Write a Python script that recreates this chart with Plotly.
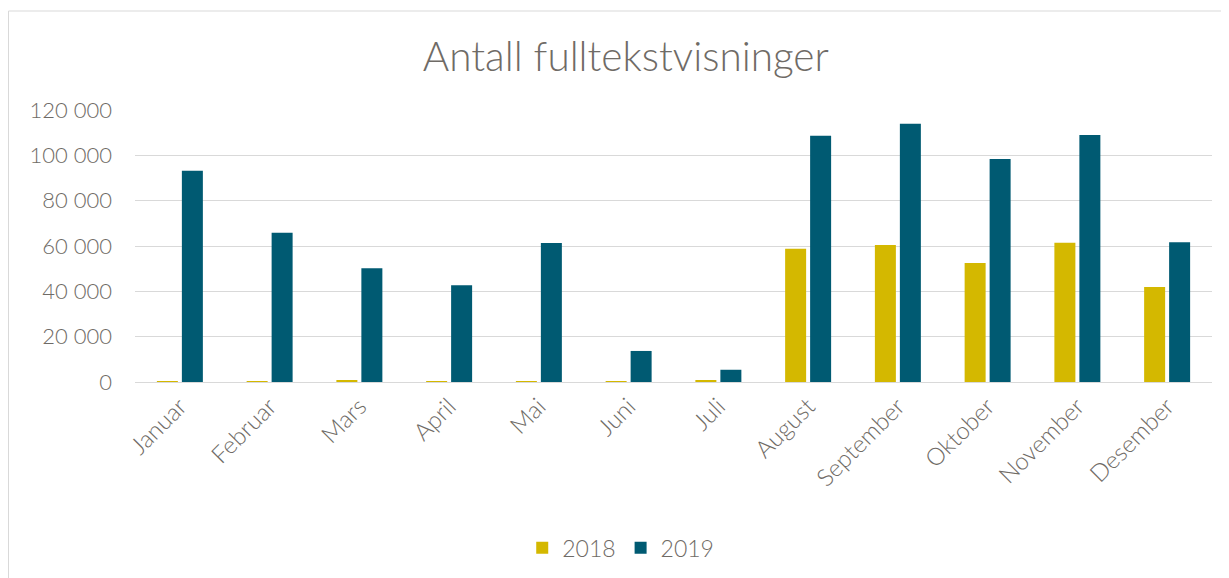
import plotly.graph_objects as go

months = ["Januar", "Februar", "Mars", "April", "Mai", "Juni", "Juli",
          "August", "September", "Oktober", "November", "Desember"]
v2018 = [200, 300, 700, 300, 300, 100, 700, 58800, 60400, 52500, 61400, 41900]
v2019 = [93200, 65800, 50200, 42700, 61300, 13700, 5400, 108600, 113900, 98400, 109000, 61700]
yticks = [0, 20000, 40000, 60000, 80000, 100000, 120000]
ytext = ["0", "20 000", "40 000", "60 000", "80 000", "100 000", "120 000"]

FONT = "Lato"
GREY = "#6f6b66"

fig = go.Figure()
fig.add_trace(go.Bar(name="2018", x=months, y=v2018, marker=dict(color="#d4b800", line=dict(width=0))))
fig.add_trace(go.Bar(name="2019", x=months, y=v2019, marker=dict(color="#005a72", line=dict(width=0))))

# page has an 8px body offset; figure occupies page x 8..1229, y 8..578
fig.update_layout(
    width=1221, height=570,
    margin=dict(l=127, r=17, t=102, b=196, autoexpand=False),
    paper_bgcolor="white", plot_bgcolor="white",
    barmode="group", bargap=0.443, bargroupgap=0.16,
    title=dict(text="Antall fulltekstvisninger", x=0.506, xanchor="center", y=0.914, yanchor="middle",
               font=dict(family=FONT, size=40.5, color=GREY, weight=300)),
    font=dict(family=FONT, color=GREY, size=22, weight=300),
    legend=dict(orientation="h", x=0.451, xanchor="center", y=-0.61, yanchor="middle",
                font=dict(size=23, color=GREY, weight=300), itemwidth=30, traceorder="normal"),
    xaxis=dict(tickangle=-45, tickfont=dict(size=24, color=GREY, weight=300), showline=True,
               linecolor="#d9d9d9", linewidth=1, ticks="", automargin=False),
    yaxis=dict(range=[0, 120000], tickvals=yticks, ticktext=ytext, showgrid=True,
               gridcolor="#d9d9d9", gridwidth=1, zeroline=False, ticks="", automargin=False,
               tickfont=dict(size=22, color=GREY, weight=300), ticklabelstandoff=22),
)
fig.add_shape(type="rect", xref="paper", yref="paper",
              x0=-126.5/1077, x1=1.05, y0=-0.8, y1=(382-11)/272,
              line=dict(color="#d9d9d9", width=1), fillcolor="rgba(0,0,0,0)", layer="below")
fig.write_html("out.html")
